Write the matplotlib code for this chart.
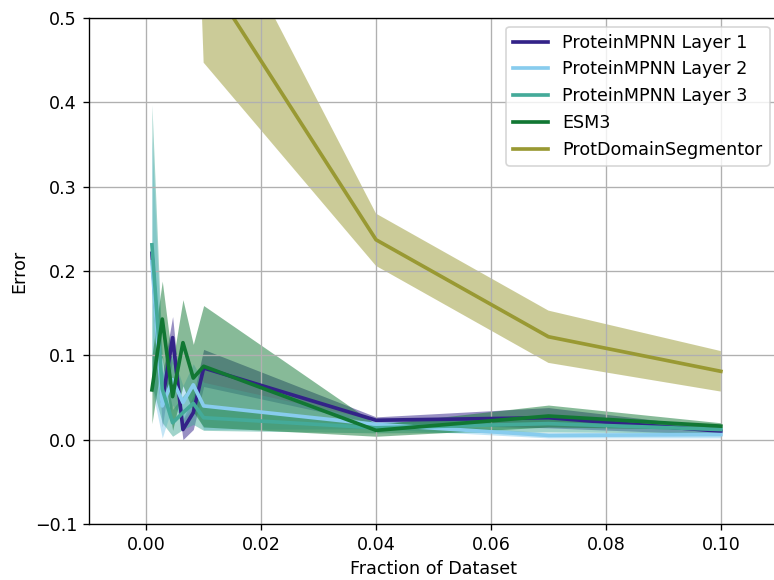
import matplotlib
matplotlib.use("Agg")
import matplotlib.pyplot as plt
import numpy as np

plt.rcParams["font.size"] = 10.5

fractions = [0.001, 0.0028, 0.0046, 0.0064, 0.0082, 0.01, 0.04, 0.07, 0.1]

labels = ["ProteinMPNN Layer 1", "ProteinMPNN Layer 2", "ProteinMPNN Layer 3",
          "ESM3", "ProtDomainSegmentor"]
colors = ["#332288", "#88CCEE", "#44AA99", "#117733", "#999933"]

layer1_mean = [0.221, 0.045, 0.121, 0.012, 0.032, 0.085, 0.023, 0.026, 0.010]
layer1_std = [0.008, 0.030, 0.025, 0.012, 0.020, 0.022, 0.004, 0.012, 0.004]

layer2_mean = [0.211, 0.040, 0.071, 0.044, 0.065, 0.040, 0.018, 0.005, 0.006]
layer2_std = [0.150, 0.038, 0.030, 0.020, 0.025, 0.028, 0.005, 0.003, 0.004]

layer3_mean = [0.231, 0.060, 0.020, 0.032, 0.043, 0.026, 0.014, 0.019, 0.012]
layer3_std = [0.166, 0.040, 0.016, 0.020, 0.025, 0.015, 0.006, 0.010, 0.004]

esm3_mean = [0.059, 0.143, 0.051, 0.115, 0.073, 0.087, 0.011, 0.028, 0.016]
esm3_std = [0.040, 0.045, 0.040, 0.051, 0.040, 0.072, 0.007, 0.013, 0.004]

pds_mean = [1.20, 1.05, 0.95, 0.85, 0.90, 0.555, 0.237, 0.122, 0.081]
pds_std = [0.15, 0.15, 0.12, 0.12, 0.11, 0.108, 0.031, 0.031, 0.024]

means = [layer1_mean, layer2_mean, layer3_mean, esm3_mean, pds_mean]
stds = [layer1_std, layer2_std, layer3_std, esm3_std, pds_std]

fig = plt.figure(figsize=(774 / 120, 580 / 120), dpi=120)
ax = fig.add_axes([0.1146, 0.0966, 0.891, 0.8724])

x = np.array(fractions)
for lab, col, m, s in zip(labels, colors, means, stds):
    m = np.array(m)
    s = np.array(s)
    ax.plot(x, m, color=col, lw=2.2, label=lab)
    ax.fill_between(x, m - s, m + s, color=col, alpha=0.5, lw=0)

ax.set_xlim(-0.01, 0.11)
ax.set_ylim(-0.1, 0.5)
ax.set_xticks([0.0, 0.02, 0.04, 0.06, 0.08, 0.10])
ax.set_xticklabels(["0.00", "0.02", "0.04", "0.06", "0.08", "0.10"])
ax.set_yticks([-0.1, 0.0, 0.1, 0.2, 0.3, 0.4, 0.5])
ax.set_yticklabels(["\u22120.1", "0.0", "0.1", "0.2", "0.3", "0.4", "0.5"])
ax.grid(True)
ax.set_xlabel("Fraction of Dataset")
ax.set_ylabel("Error")
ax.legend(loc="upper right")

fig.savefig("out.png", dpi=120)
